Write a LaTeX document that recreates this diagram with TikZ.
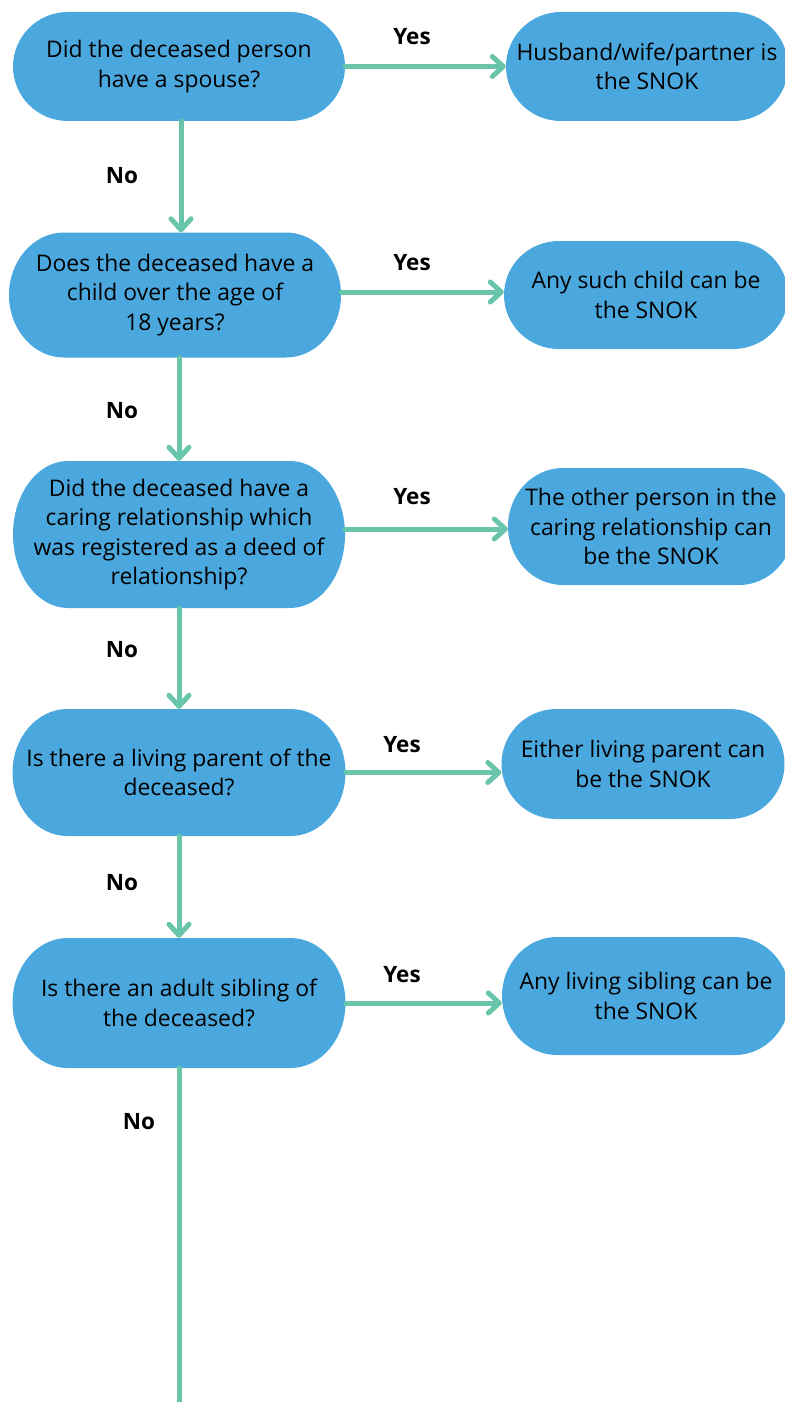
\documentclass[tikz,border=0pt]{standalone}
\usepackage{fontspec}
\setmainfont{Open Sans}
\usetikzlibrary{arrows.meta,calc}
\definecolor{boxblue}{HTML}{4AA8DE}
\definecolor{flowgreen}{HTML}{68C5A9}
\tikzset{
  stadium/.style 2 args={minimum width=#1, minimum height=#2, inner sep=0pt,
    align=center, text=black,
    font=\fontsize{22.9pt}{29.5pt}\selectfont,
    path picture={
      \fill[boxblue] let \p1=(path picture bounding box.north west),
        \p2=(path picture bounding box.south east),
        \n1={(\y1-\y2)/2}, \n2={55pt} in
        (\x1+\n2,\y1) -- (\x2-\n2,\y1)
        arc[start angle=90,end angle=-90,x radius=\n2,y radius=\n1]
        -- (\x1+\n2,\y2)
        arc[start angle=270,end angle=90,x radius=\n2,y radius=\n1] -- cycle;
    }},
  flow/.style={draw=flowgreen, line width=5pt, line cap=round,
    -{Straight Barb[length=11pt,width=20pt,round]}},
  plainflow/.style={draw=flowgreen, line width=5pt, line cap=round},
  lbl/.style={font=\fontsize{22.5pt}{25pt}\selectfont\bfseries, text=black, inner sep=0pt}
}
\begin{document}
\begin{tikzpicture}[x=1pt,y=1pt]
\useasboundingbox (0,0) rectangle (784,-1402);
\fill[white] (0,0) rectangle (784,-1402);

% questions
\node[stadium={332pt}{109pt}] (q1) at (179,-66.5) {Did the deceased person\\have a spouse?};
\node[stadium={332pt}{125pt}] (q2) at (175,-295) {Does the deceased have a\\child over the age of\\18 years?};
\node[stadium={332pt}{147pt}] (q3) at (179,-534.5) {Did the deceased have a\\caring relationship which\\was registered as a deed of\\relationship?};
\node[stadium={333pt}{127pt}] (q4) at (179,-772.5) {Is there a living parent of the\\deceased?};
\node[stadium={333pt}{130pt}] (q5) at (179,-1003) {Is there an adult sibling of\\the deceased?};

% answers
\node[stadium={282pt}{109pt}] (a1) at (647,-66.5) {Husband/wife/partner is\\the SNOK};
\node[stadium={284pt}{108pt}] (a2) at (646,-295) {Any such child can be\\the SNOK};
\node[stadium={286pt}{117pt}] (a3) at (651,-526.5) {The other person in the\\caring relationship can\\be the SNOK};
\node[stadium={283pt}{110pt}] (a4) at (643,-764) {Either living parent can\\be the SNOK};
\node[stadium={288pt}{118pt}] (a5) at (646,-996) {Any living sibling can be\\the SNOK};

% yes arrows
\draw[flow] (q1.east) -- (q1.east -| a1.west);
\draw[flow] ([yshift=3pt]q2.east) -- ([yshift=3pt]q2.east -| a2.west);
\draw[flow] ([yshift=5.5pt]q3.east) -- ([yshift=5.5pt]q3.east -| a3.west);
\draw[flow] (q4.east) -- (q4.east -| a4.west);
\draw[flow] (q5.east) -- (q5.east -| a5.west);

% no arrows
\draw[flow] ([xshift=2pt]q1.south) -- ([xshift=2pt]q1.south |- q2.north);
\draw[flow] ([xshift=4pt]q2.south) -- ([xshift=4pt]q2.south |- q3.north);
\draw[flow] (q3.south) -- (q3.south |- q4.north);
\draw[flow] (q4.south) -- (q4.south |- q5.north);
\coordinate (end) at (179,-1410);
\draw[plainflow] (q5.south) -- (end);

% labels
\node[lbl] (y1) at (412,-37) {Yes};
\node[lbl] (y2) at (412,-263) {Yes};
\node[lbl] (y3) at (412,-497) {Yes};
\node[lbl] (y4) at (402,-745) {Yes};
\node[lbl] (y5) at (402,-975) {Yes};
\node[lbl] (n1) at (122,-176) {No};
\node[lbl] (n2) at (122,-411) {No};
\node[lbl] (n3) at (122,-650) {No};
\node[lbl] (n4) at (122,-883) {No};
\node[lbl] (n5) at (139,-1122) {No};
\end{tikzpicture}
\end{document}
